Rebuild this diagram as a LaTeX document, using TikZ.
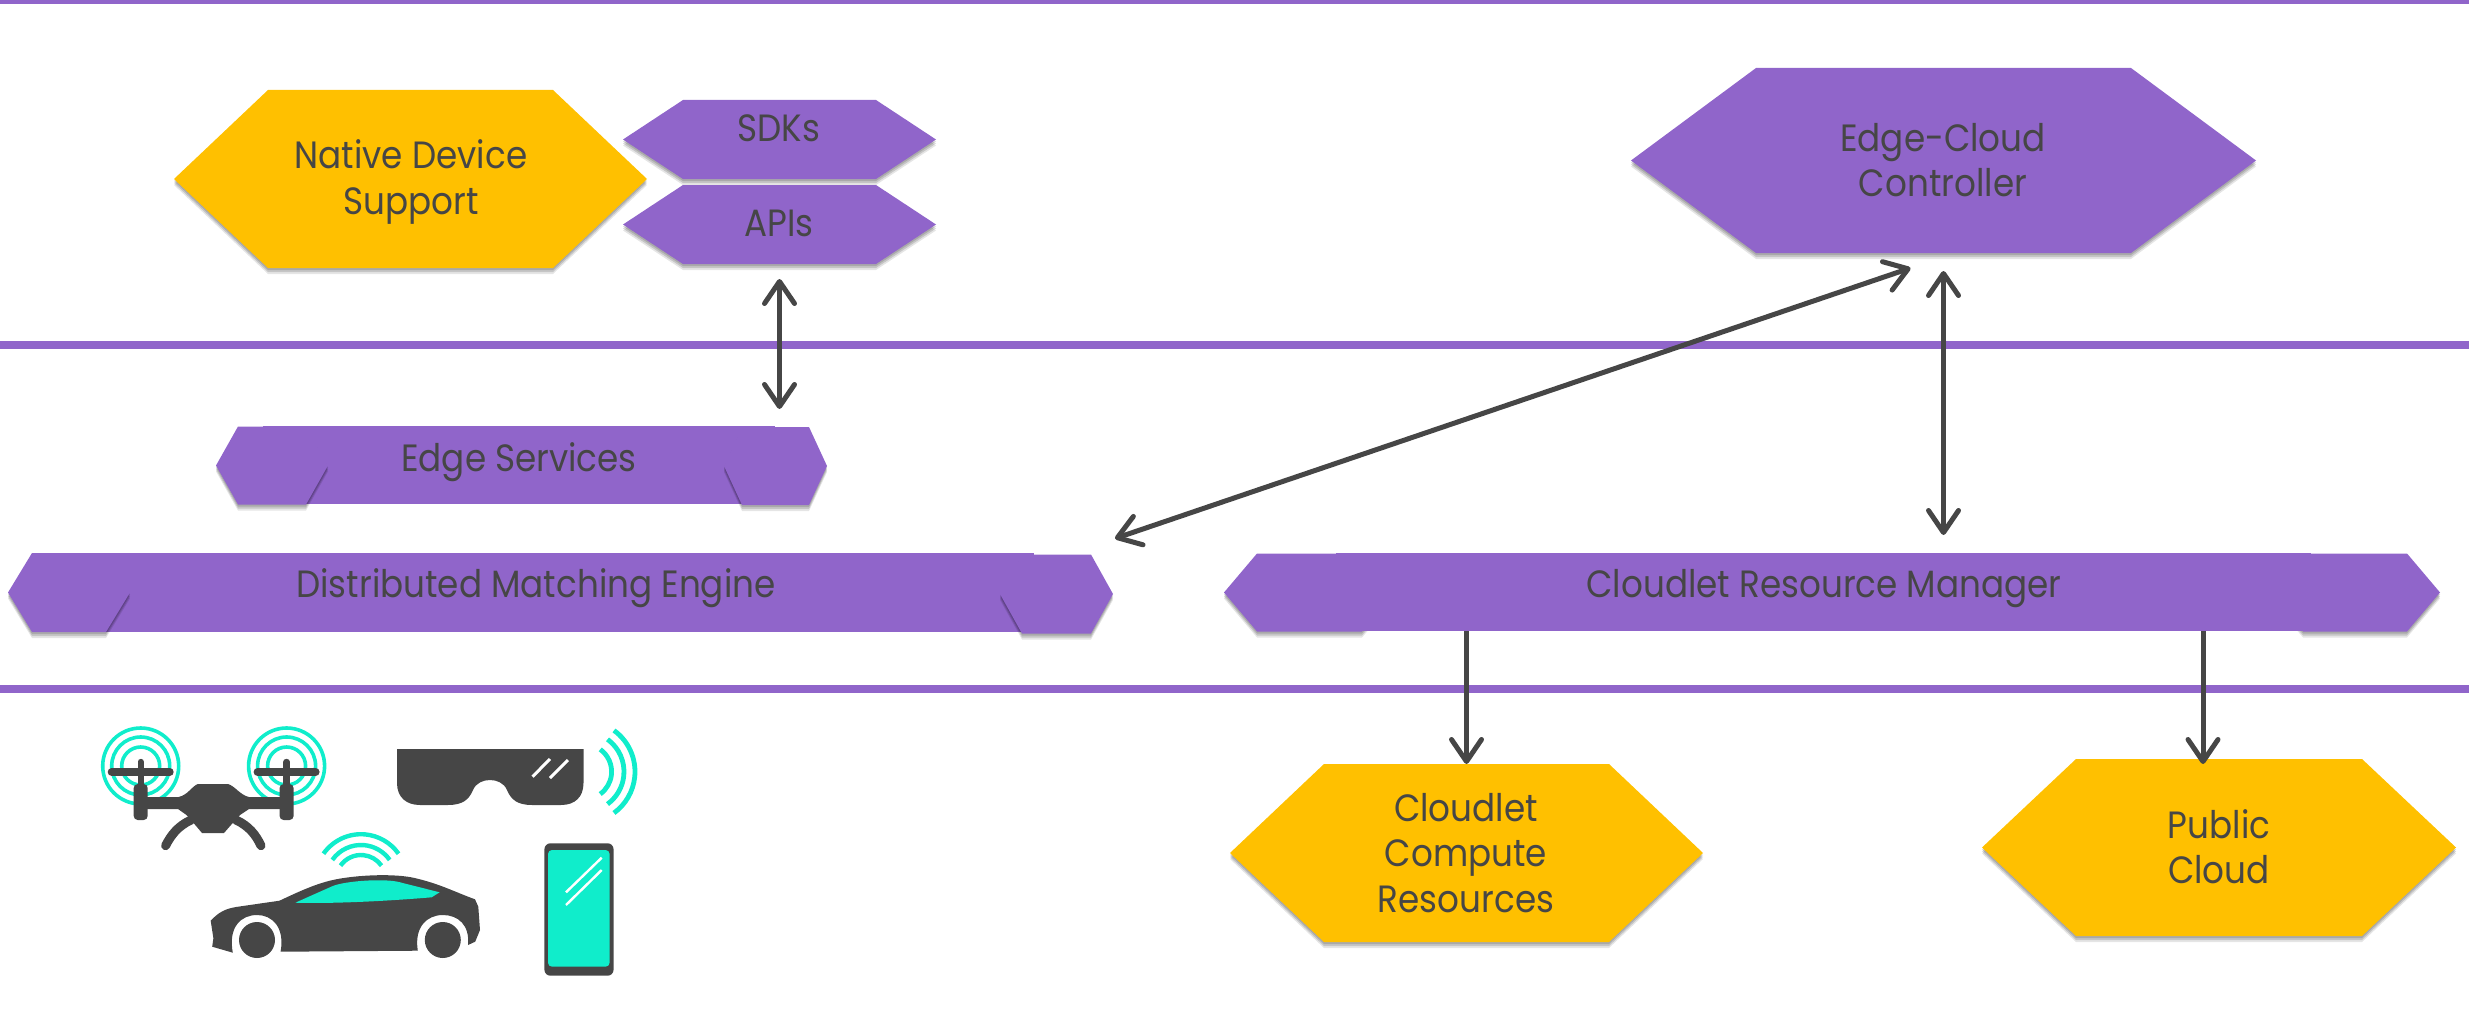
\documentclass[tikz,border=0pt]{standalone}
\usepackage{fontspec}
\setmainfont{Poppins}[FakeStretch=0.9]
\usetikzlibrary{arrows.meta,shadows}
\definecolor{hexpurple}{HTML}{9065CA}
\definecolor{hexorange}{HTML}{FFC000}
\definecolor{iconteal}{HTML}{10EDCB}
\definecolor{inkgrey}{HTML}{464646}
\tikzset{
    rulestyle/.style={draw=hexpurple, line width=3.8pt},
    hexfill/.style={
        drop shadow={shadow xshift=0pt, shadow yshift=-3pt, opacity=.1, fill=black},
        drop shadow={shadow xshift=0pt, shadow yshift=-2pt, opacity=.14, fill=black},
        drop shadow={shadow xshift=0pt, shadow yshift=-1pt, opacity=.14, fill=black}},
    hexanchor/.style={inner sep=0pt, outer sep=0pt},
    bandnode/.style={inner sep=0pt, outer sep=0pt, fill=hexpurple},
    lbl/.style={text=inkgrey, align=center, font=\fontsize{19}{22.7}\selectfont},
    linkarrow/.style={draw=inkgrey, line width=2.5pt, >={Straight Barb[round, length=11pt, width=15pt]}},
    tealarc/.style={draw=iconteal, line width=2.4pt},
    glint/.style={draw=white, line width=1.5pt},
}
\begin{document}
\begin{tikzpicture}[x=0.5pt, y=-0.5pt]
        \useasboundingbox (0,0) rectangle (2469,1022);
        \foreach \ry/\rw in {2/2pt,345/3.6pt,689/4pt} {
            \draw[rulestyle, line width=\rw] (0,\ry) -- (2469,\ry);
        }
        % bands under the end caps
        \node[bandnode, minimum width=256pt, minimum height=39pt] (edgesvc) at (519,465) {};
        \node[bandnode, minimum width=501pt, minimum height=39.5pt] (matcher) at (533,592.5) {};
        % name/cx/cy/half width/half height/inset/colour
        \foreach \n/\cx/\cy/\hw/\hh/\ins/\col in {
            native/410.5/179/236.5/89/94/hexorange,
            sdks/779.5/139.5/156.5/39.5/60/hexpurple,
            apis/779.5/224.5/156.5/39.5/60/hexpurple,
            controller/1943.5/160.5/312.5/92.5/125/hexpurple,
            edgeleft/272/465.5/56/39/22/hexpurple,
            edgeright/775.5/466/51.5/39/18/hexpurple,
            matchleft/69/592.5/61/39.5/24/hexpurple,
            matchright/1056.5/594/56.5/39.5/22/hexpurple,
            mgrleft/1309.5/592.5/85.5/39/33/hexpurple,
            mgrright/2355/592.5/85/39/33/hexpurple,
            compute/1466.5/853/236.5/89/94/hexorange,
            public/2219/847.5/237/88.5/94/hexorange} {
            \fill[hexfill, fill=\col] (\cx-\hw,\cy) -- (\cx-\hw+\ins,\cy-\hh) -- (\cx+\hw-\ins,\cy-\hh)
                -- (\cx+\hw,\cy) -- (\cx+\hw-\ins,\cy+\hh) -- (\cx-\hw+\ins,\cy+\hh) -- cycle;
            \node[hexanchor, minimum width=\hw*1pt, minimum height=\hh*1pt] (\n) at (\cx,\cy) {};
        }
        \node[bandnode, minimum width=487.5pt, minimum height=39pt] (cloudletmgr) at (1823.5,592) {};
        \node[lbl] (nativetxt) at (411,182) {Native Device\\Support};
        \node[lbl] (sdkstxt) at (779,128) {SDKs};
        \node[lbl] (apistxt) at (779,223) {APIs};
        \node[lbl] (controllertxt) at (1943,160) {Edge-Cloud\\Controller};
        \node[lbl] (edgesvctxt) at (519,462) {Edge Services};
        \node[lbl] (matchertxt) at (536,588) {Distributed Matching Engine};
        \node[lbl] (cloudletmgrtxt) at (1824,589) {Cloudlet Resource Manager};
        \node[lbl] (computetxt) at (1466,853) {Cloudlet\\Compute\\Resources};
        \node[lbl] (publictxt) at (2219,847) {Public\\Cloud};
        % connectors
        \coordinate (publicin) at ([shift={(-16,5)}]public.north);
        \draw[linkarrow, <->, shorten <=7.5pt, shorten >=8.5pt] (apis.south) -- (apis.south |- edgesvc.north);
        \draw[linkarrow, <->] ([shift={(2,-16)}]matchright.north east) -- ([shift={(-33,15)}]controller.south);
        \draw[linkarrow, <->, shorten <=9pt, shorten >=9pt] (controller.south) -- (controller.south |- cloudletmgr.north);
        \draw[linkarrow, ->] (compute.north |- cloudletmgr.south) -- (compute.north);
        \draw[linkarrow, ->] (publicin |- cloudletmgr.south) -- (publicin);
        % drone
        \foreach \cx in {140.7,286.6} {
            \foreach \r in {19,29,38} {
                \draw[draw=iconteal, line width=1.8pt] (\cx,766) circle (\r);
            }
            \fill[inkgrey, rounded corners=2pt] (\cx-7,784) rectangle (\cx+7,820);
            \draw[inkgrey, line width=4pt, line cap=round] (\cx-29,772) -- (\cx+29,772);
            \draw[inkgrey, line width=3.2pt, line cap=round] (\cx,762) -- (\cx,785);
        }
        \fill[inkgrey] (147,797) -- (178.6,797) .. controls (188,795) and (192,786) .. (198,784) -- (228,784)
            .. controls (235,786) and (240,795) .. (249,797) -- (280,797) -- (280,809) -- (249,809)
            -- (240,815) -- (231,825) -- (224,833) -- (202,833) -- (194.4,824) -- (186.5,815) -- (178,809) -- (147,809) -- cycle;
        \draw[inkgrey, line width=4.5pt, line cap=round] (191,820) .. controls (178,826) and (171,835) .. (165.6,845.7);
        \draw[inkgrey, line width=4.5pt, line cap=round] (236,820) .. controls (249,826) and (256,835) .. (261,845.7);
        % glasses
        \fill[inkgrey] (397,749) -- (583.5,749) -- (583.5,783) .. controls (583.5,797) and (575,805) .. (561,805)
            -- (532,805) .. controls (518,805) and (511,800) .. (507,790) .. controls (504,783) and (497,780) .. (490,780)
            .. controls (483,780) and (476,783) .. (473,790) .. controls (469,800) and (462,805) .. (448,805)
            -- (420,805) .. controls (406,805) and (397,797) .. (397,783) -- cycle;
        \draw[glint] (532.5,776.7) -- (550,759);
        \draw[glint] (550,778) -- (568,760);
        \foreach \r in {27.6,40,51} {
            \draw[tealarc] (584,771.7) ++(-54:\r) arc[start angle=-54, end angle=54, radius=\r];
        }
        % car
        \foreach \r in {25,35,45.8} {
            \draw[tealarc, line width=2.2pt] (361,880) ++(-145:\r) arc[start angle=-145, end angle=-35, radius=\r];
        }
        \fill[inkgrey] (232.8,952.7) -- (212.2,946.7) -- (213.4,938.3) -- (210.7,920.7)
            .. controls (218,913) and (224,909) .. (236,907) -- (279.5,900.7)
            .. controls (298,892) and (315,884) .. (332.8,880) .. controls (355,875) and (395,873) .. (415.9,878.3)
            .. controls (440,884) and (455,892) .. (475,899.3) -- (478.3,906.7) -- (480,930) -- (475.2,941.7) -- (468,945)
            .. controls (470,925) and (458,915) .. (442.8,915) .. controls (427,915) and (414,927) .. (417.8,950.7)
            -- (280.6,951.7) .. controls (285,927) and (272,915) .. (257,915) .. controls (241,915) and (228,927) .. (232.8,952.7) -- cycle;
        \fill[inkgrey] (257,940) circle (18);
        \fill[inkgrey] (442.8,940) circle (18);
        \fill[iconteal] (295.3,902.7) -- (332.8,886) .. controls (345,881) and (385,878) .. (400,882.3) -- (439.6,892.3)
            -- (431.7,897.3) .. controls (400,900) and (340,904) .. (295.3,902.7) -- cycle;
        % phone
        \fill[inkgrey, rounded corners=3pt] (544.4,843.3) rectangle (613.6,975.7);
        \fill[iconteal, rounded corners=2pt] (548,850) rectangle (609.6,966.7);
        \draw[glint, line width=1.2pt] (566,892.3) -- (601.7,857.7);
        \draw[glint, line width=1.2pt] (566,905) -- (601.7,870);
        \end{tikzpicture}
\end{document}
